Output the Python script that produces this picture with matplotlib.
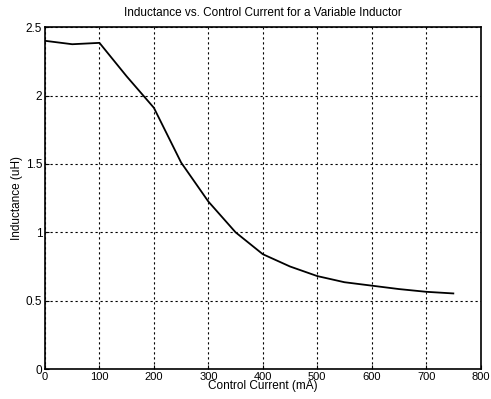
import matplotlib
matplotlib.use("Agg")
import matplotlib.pyplot as plt

# control current (mA) and measured inductance (uH)
current = [0, 50, 100, 150, 200, 250, 300, 350, 400, 450, 500, 550, 600, 650, 700, 750]
inductance = [2.40, 2.375, 2.385, 2.14, 1.91, 1.51, 1.225, 1.0, 0.84, 0.75, 0.68, 0.635, 0.61, 0.585, 0.565, 0.553]

xticks = [0, 100, 200, 300, 400, 500, 600, 700, 800]
yticks = [0, 0.5, 1, 1.5, 2, 2.5]
ytick_labels = ["0", "0.5", "1", "1.5", "2", "2.5"]

plt.rcParams['font.family'] = ['Liberation Sans', 'DejaVu Sans']

fig = plt.figure(figsize=(4.91, 3.99), dpi=100)
ax = fig.add_axes([0.0917, 0.075, 0.887, 0.857])

ax.plot(current, inductance, color="black", linewidth=1.3)

ax.set_xlim(0, 800)
ax.set_ylim(0, 2.5)
ax.set_xticks(xticks)
ax.set_yticks(yticks)
ax.set_yticklabels(ytick_labels)
ax.grid(True, color="black", linestyle=(0, (2, 2.5)), linewidth=0.8)
ax.tick_params(direction="in", length=3, labelsize=8.5, color="black")
ax.tick_params(axis="x", pad=2, labelsize=8)
ax.tick_params(axis="y", pad=2)

for s in ax.spines.values():
    s.set_color("black")
    s.set_linewidth(1.2)

ax.set_title("Inductance vs. Control Current for a Variable Inductor", fontsize=8.5, pad=8)
ax.set_xlabel("Control Current (mA)", fontsize=8.5, labelpad=-1)
ax.set_ylabel("Inductance (uH)", fontsize=8.5, labelpad=2)

fig.savefig("out.png", dpi=100)
